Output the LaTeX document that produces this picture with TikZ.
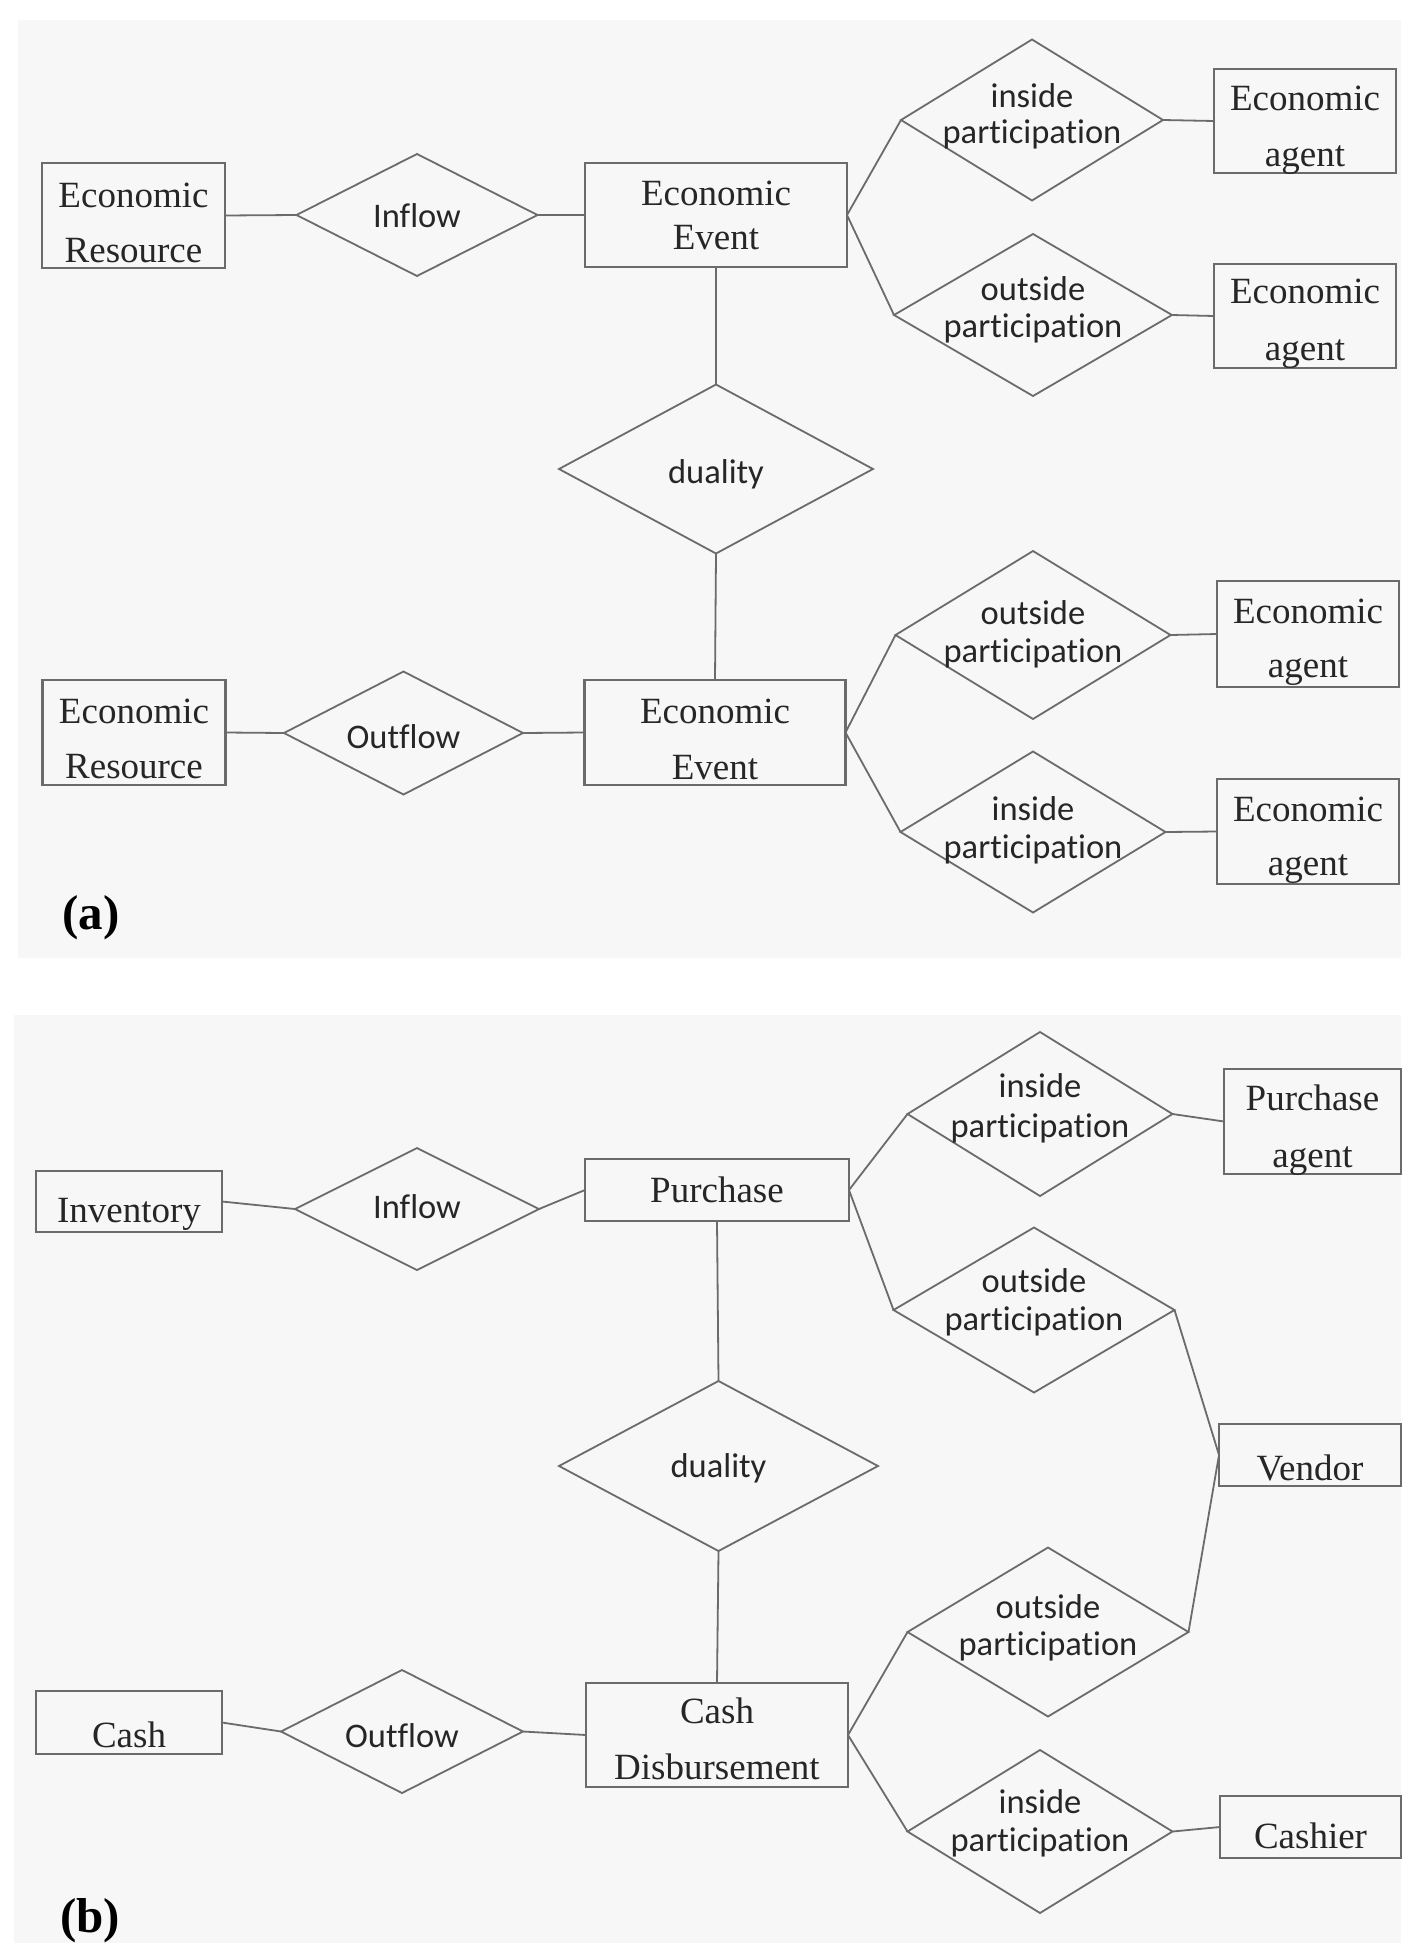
\documentclass[tikz,border=0pt]{standalone}
\usepackage{fontspec}
\setmainfont{Liberation Serif}
\newfontfamily\relfont[Ligatures=NoCommon]{Carlito}
\usetikzlibrary{shapes.geometric}

\definecolor{panelbg}{HTML}{F7F7F7}
\definecolor{edgegray}{HTML}{6B6B6B}
\definecolor{inkgray}{HTML}{262626}

% Centred multi-line labels of zero size; #1 lifts the last baseline, #2 is the line pitch
\newcommand{\enttext}[3]{\raisebox{#1}[0pt][0pt]{\makebox[0pt]{\fontsize{37pt}{#2}\selectfont\begin{tabular}[b]{@{}c@{}}#3\end{tabular}}}}
\newcommand{\reltext}[3]{\raisebox{#1}[0pt][0pt]{\makebox[0pt]{\relfont\fontsize{34.5pt}{#2}\selectfont\begin{tabular}[b]{@{}c@{}}#3\end{tabular}}}}

\tikzset{
  ent/.style 2 args={draw=edgegray, line width=2.2pt, rectangle, inner sep=0pt, outer sep=0pt,
    text=inkgray, minimum width=#1pt, minimum height=#2pt},
  rel/.style 2 args={draw=edgegray, line width=1.8pt, diamond, inner sep=0pt, outer sep=0pt,
    text=inkgray, minimum width=#1pt, minimum height=#2pt},
  link/.style={draw=edgegray, line width=1.8pt},
  tag/.style={inner sep=0pt, anchor=base west, text=black,
    font=\fontsize{49pt}{49pt}\selectfont\bfseries},
}

\begin{document}
\begin{tikzpicture}[x=1pt,y=-1pt]
\useasboundingbox (0,0) rectangle (1401,1943);
\fill[white] (0,0) rectangle (1401,1943);
\fill[panelbg] (18,20) rectangle (1401,958);
\fill[panelbg] (14,1015) rectangle (1401,1943);

% ---------- (a) generic REA pattern ----------
\node[ent={183}{105}] (resA1) at (133.5,215.5) {\enttext{-46.5pt}{55pt}{Economic\\Resource}};
\node[rel={241}{122}] (inflowA) at (417,215) {\reltext{-12pt}{37pt}{Inflow}};
\node[ent={262}{104}] (eventA1) at (716,215) {\enttext{-34pt}{44pt}{Economic\\Event}};
\node[rel={262}{161}] (insideA1) at (1032,120) {\reltext{-23pt}{36pt}{inside\\participation}};
\node[ent={182}{104}] (agentA1) at (1305,121) {\enttext{-46pt}{56pt}{Economic\\agent}};
\node[rel={278}{162}] (outsideA1) at (1033,315) {\reltext{-22pt}{37pt}{outside\\participation}};
\node[ent={182}{104}] (agentA2) at (1305,316) {\enttext{-44pt}{57pt}{Economic\\agent}};
\node[rel={314}{169}] (dualA) at (716,469) {\reltext{-14pt}{37pt}{duality}};
\node[ent={183}{105}] (resA2) at (134,732.5) {\enttext{-45.5pt}{55pt}{Economic\\Resource}};
\node[rel={239}{123}] (outflowA) at (403.5,733) {\reltext{-15pt}{37pt}{Outflow}};
\node[ent={261}{105}] (eventA2) at (715,732.5) {\enttext{-46.5pt}{56pt}{Economic\\Event}};
\node[rel={275}{168}] (outsideA2) at (1033,635) {\reltext{-27pt}{38pt}{outside\\participation}};
\node[ent={182}{106}] (agentA3) at (1308,634) {\enttext{-43pt}{54pt}{Economic\\agent}};
\node[rel={265}{161}] (insideA2) at (1033,832) {\reltext{-26pt}{38pt}{inside\\participation}};
\node[ent={182}{105}] (agentA4) at (1308,831.5) {\enttext{-43.5pt}{54pt}{Economic\\agent}};
\node[tag] (tagA) at (62,929) {(a)};

\draw[link] (resA1.east) -- (inflowA.west);
\draw[link] (inflowA.east) -- (eventA1.west);
\draw[link] (eventA1.east) -- (insideA1.west);
\draw[link] (eventA1.east) -- (outsideA1.west);
\draw[link] (insideA1.east) -- (agentA1.west);
\draw[link] (outsideA1.east) -- (agentA2.west);
\draw[link] (eventA1.south) -- (dualA.north);
\draw[link] (dualA.south) -- (eventA2.north);
\draw[link] (resA2.east) -- (outflowA.west);
\draw[link] (outflowA.east) -- (eventA2.west);
\draw[link] (eventA2.east) -- (outsideA2.west);
\draw[link] (eventA2.east) -- (insideA2.west);
\draw[link] (outsideA2.east) -- (agentA3.west);
\draw[link] (insideA2.east) -- (agentA4.west);

% ---------- (b) purchase / cash disbursement ----------
\node[ent={186}{61}] (inventory) at (129,1201.5) {\enttext{-20.5pt}{44pt}{Inventory}};
\node[rel={244}{122}] (inflowB) at (417,1209) {\reltext{-9pt}{37pt}{Inflow}};
\node[ent={264}{62}] (purchase) at (717,1190) {\enttext{-12pt}{44pt}{Purchase}};
\node[rel={265}{164}] (insideB1) at (1040,1114) {\reltext{-23pt}{40pt}{inside\\participation}};
\node[ent={177}{105}] (pagent) at (1312.5,1121.5) {\enttext{-45.5pt}{57pt}{Purchase\\agent}};
\node[rel={281}{165}] (outsideB1) at (1034,1310) {\reltext{-20pt}{38pt}{outside\\participation}};
\node[ent={182}{62}] (vendor) at (1310,1455) {\enttext{-25pt}{44pt}{Vendor}};
\node[rel={319}{170}] (dualB) at (718.5,1466) {\reltext{-11pt}{37pt}{duality}};
\node[ent={186}{63}] (cash) at (129,1722.5) {\enttext{-24.5pt}{44pt}{Cash}};
\node[rel={242}{123}] (outflowB) at (402,1731.5) {\reltext{-16pt}{37pt}{Outflow}};
\node[ent={262}{104}] (disburse) at (717,1735) {\enttext{-44pt}{56pt}{Cash\\Disbursement}};
\node[rel={281}{169}] (outsideB2) at (1048,1632) {\reltext{-23pt}{37pt}{outside\\participation}};
\node[rel={265}{163}] (insideB2) at (1040,1831.5) {\reltext{-20pt}{38pt}{inside\\participation}};
\node[ent={181}{62}] (cashier) at (1310.5,1827) {\enttext{-21pt}{44pt}{Cashier}};
\node[tag] (tagB) at (60,1932) {(b)};

\draw[link] (inventory.east) -- (inflowB.west);
\draw[link] (inflowB.east) -- (purchase.west);
\draw[link] (purchase.east) -- (insideB1.west);
\draw[link] (purchase.east) -- (outsideB1.west);
\draw[link] (insideB1.east) -- (pagent.west);
\draw[link] (outsideB1.east) -- (vendor.west);
\draw[link] (vendor.west) -- (outsideB2.east);
\draw[link] (purchase.south) -- (dualB.north);
\draw[link] (dualB.south) -- (disburse.north);
\draw[link] (cash.east) -- (outflowB.west);
\draw[link] (outflowB.east) -- (disburse.west);
\draw[link] (disburse.east) -- (outsideB2.west);
\draw[link] (disburse.east) -- (insideB2.west);
\draw[link] (insideB2.east) -- (cashier.west);
\end{tikzpicture}
\end{document}
